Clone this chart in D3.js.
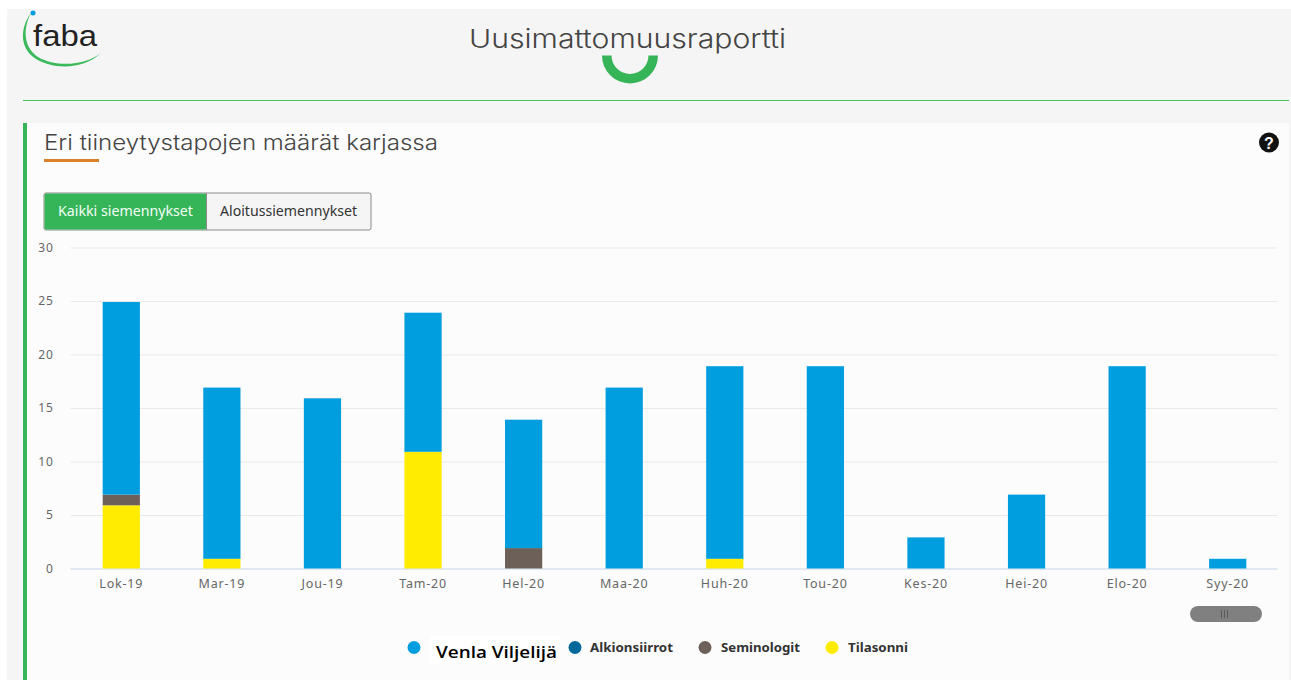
<!DOCTYPE html>
<html><head><meta charset="utf-8">
<script src="https://cdn.jsdelivr.net/npm/d3@7/dist/d3.min.js"></script>
<style>html,body{margin:0;padding:0;background:#fff;overflow:hidden}svg{display:block}</style>
</head><body><svg id="c" width="1291" height="680"></svg>
<script>
const categories=["Lok-19","Mar-19","Jou-19","Tam-20","Hel-20","Maa-20","Huh-20","Tou-20","Kes-20","Hei-20","Elo-20","Syy-20"];
const tilasonni=[6,1,0,11,0,0,1,0,0,0,0,0];
const seminologit=[1,0,0,0,2,0,0,0,0,0,0,0];
const alkionsiirrot=[0,0,0,0,0,0,0,0,0,0,0,0];
const venla=[18,16,16,13,12,17,18,19,3,7,19,1];
const yTicks=[0,5,10,15,20,25,30];
const seriesNames=["Venla Viljelijä","Alkionsiirrot","Seminologit","Tilasonni"];
const seriesColors=["#009ddf","#00689a","#6d6058","#ffec00"];
const stackOrder=[3,2,1,0];
const seriesValues=[venla,alkionsiirrot,seminologit,tilasonni];

const svg=d3.select("#c");
const titleFont="Inter, Lato, sans-serif", uiFont="'Noto Sans', sans-serif";
// page
svg.append("rect").attr("x",7).attr("y",9).attr("width",1284).attr("height",671).attr("fill","#f5f5f5");
svg.append("line").attr("x1",23).attr("x2",1289).attr("y1",100.5).attr("y2",100.5).attr("stroke","#4cc464").attr("stroke-width",1);
// logo
const logo=svg.append("g");
logo.append("path").attr("d","M31,13 C20,28 19,48 36,59 C56,71 86,68 101,53 C86,65 57,68 38,57 C23,47 23,28 31,13 Z").attr("fill","#3cb95a");
logo.append("circle").attr("cx",33).attr("cy",13).attr("r",2.5).attr("fill","#009ddf");
logo.append("text").attr("x",33).attr("y",46).attr("font-family","'Liberation Sans',sans-serif").attr("font-size",29).attr("textLength",64).attr("lengthAdjust","spacingAndGlyphs").attr("fill","#222").text("faba");
// header
svg.append("path").attr("transform","translate(630,55.5)").attr("d",d3.arc()({innerRadius:18.5,outerRadius:28,startAngle:Math.PI/2,endAngle:Math.PI*1.5})).attr("fill","#36b458");
svg.append("text").attr("x",469).attr("y",48).attr("font-family",titleFont).attr("font-weight",300).attr("font-size",26).attr("textLength",317).attr("lengthAdjust","spacingAndGlyphs").attr("fill","#444").text("Uusimattomuusraportti");
// card
svg.append("rect").attr("x",23).attr("y",123).attr("width",1266).attr("height",557).attr("fill","#fcfcfc");
svg.append("rect").attr("x",23).attr("y",123).attr("width",4).attr("height",557).attr("fill","#36b458");
svg.append("text").attr("x",44).attr("y",150).attr("font-family",titleFont).attr("font-weight",300).attr("font-size",22).attr("textLength",394).attr("lengthAdjust","spacingAndGlyphs").attr("fill","#444").text("Eri tiineytystapojen määrät karjassa");
svg.append("rect").attr("x",44).attr("y",159).attr("width",55).attr("height",3).attr("fill","#d9822b");
// help icon
svg.append("circle").attr("cx",1269).attr("cy",142.5).attr("r",10).attr("fill","#111");
svg.append("text").attr("x",1269).attr("y",148.5).attr("text-anchor","middle").attr("font-family","'Liberation Sans',sans-serif").attr("font-weight",700).attr("font-size",16).attr("fill","#fcfcfc").text("?");
// buttons
svg.append("rect").attr("x",44).attr("y",193).attr("width",327).attr("height",37).attr("rx",2).attr("fill","#f5f5f5").attr("stroke","#8a8a8a");
svg.append("rect").attr("x",44.5).attr("y",193.5).attr("width",162).attr("height",36).attr("rx",2).attr("fill","#36b458");
svg.append("line").attr("x1",206.5).attr("x2",206.5).attr("y1",193).attr("y2",230).attr("stroke","#8a8a8a");
svg.append("text").attr("x",58).attr("y",216).attr("font-family",uiFont).attr("font-size",13.5).attr("textLength",135).attr("lengthAdjust","spacingAndGlyphs").attr("fill","#f4fff6").text("Kaikki siemennykset");
svg.append("text").attr("x",220).attr("y",216).attr("font-family",uiFont).attr("font-size",13.5).attr("textLength",137).attr("lengthAdjust","spacingAndGlyphs").attr("fill","#333").text("Aloitussiemennykset");
// chart
const x=d3.scaleBand().domain(categories).range([71,1278]).paddingInner(0.63).paddingOuter(0.315);
const y=d3.scaleLinear().domain([0,30]).range([568.5,247.5]);
const yAxis=svg.append("g").attr("transform","translate(70.5,0)").call(d3.axisLeft(y).tickValues(yTicks).tickSize(-1207).tickPadding(17));
yAxis.select(".domain").remove();
yAxis.selectAll("line").attr("stroke",d=>d===0?"#c5d5ea":"#e9e9e9");
yAxis.selectAll("text").attr("font-family",uiFont).attr("font-size",12).attr("fill","#666").attr("letter-spacing",0.7);
const xAxis=svg.append("g").attr("transform","translate(0,568.5)").call(d3.axisBottom(x).tickSize(0).tickPadding(11));
xAxis.select(".domain").remove();
xAxis.selectAll("text").attr("font-family",uiFont).attr("font-size",12.5).attr("fill","#666").attr("letter-spacing",0.8);
// bars
const stackData=categories.map((c,i)=>{const o={c};seriesNames.forEach((n,k)=>o[n]=seriesValues[k][i]);return o;});
const stacked=d3.stack().keys(stackOrder.map(k=>seriesNames[k]))(stackData);
const yBase=y(0);
svg.append("g").selectAll("g").data(stacked).join("g").attr("fill",d=>seriesColors[seriesNames.indexOf(d.key)])
 .selectAll("rect").data(d=>d.filter(s=>s[1]>s[0])).join("rect")
 .attr("x",d=>x(d.data.c)).attr("width",x.bandwidth())
 .attr("y",d=>y(d[1])+1).attr("height",d=>Math.min(y(d[0])+1,yBase)-(y(d[1])+1));
// scrollbar
svg.append("rect").attr("x",1190).attr("y",606).attr("width",72).attr("height",16).attr("rx",8).attr("fill","#808080");
[1222,1225,1228].forEach(px=>svg.append("line").attr("x1",px-0.5).attr("x2",px-0.5).attr("y1",610).attr("y2",618).attr("stroke","#5a5a5a"));
// legend
const legendDotX=[414,575,705,832];
const legendTextX=[436,590,721,848];
const legendTextW=[121,83,79,60];
const lg=svg.append("g");
lg.append("rect").attr("x",430).attr("y",636).attr("width",130).attr("height",28).attr("fill","#ffffff");
seriesNames.forEach((n,i)=>{
  lg.append("circle").attr("cx",legendDotX[i]).attr("cy",647.5).attr("r",6.5).attr("fill",seriesColors[i]);
  lg.append("text").attr("x",legendTextX[i]).attr("y",i===0?658:652).attr("font-family",i===0?"'Open Sans',sans-serif":uiFont).attr("font-weight",i===0?600:700)
    .attr("font-size",i===0?16:13).attr("textLength",legendTextW[i]).attr("lengthAdjust","spacingAndGlyphs").attr("fill",i===0?"#000":"#333").text(n);
});
</script></body></html>
